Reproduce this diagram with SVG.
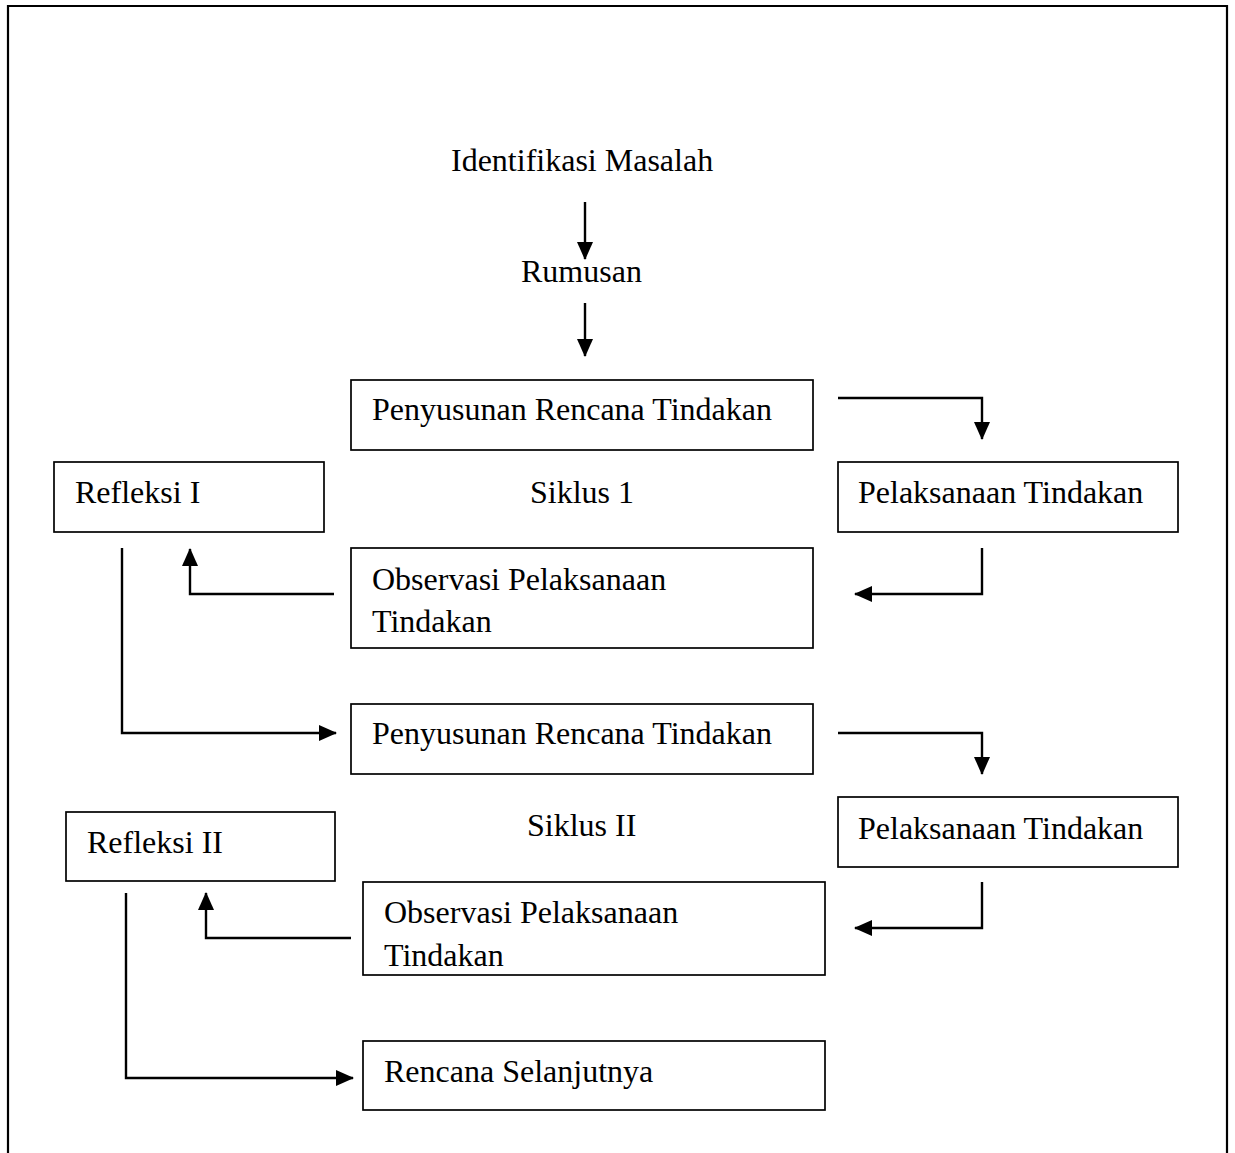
<svg xmlns="http://www.w3.org/2000/svg" width="1235" height="1153" viewBox="0 0 1235 1153">
<defs>
<marker id="ah" markerUnits="userSpaceOnUse" markerWidth="18" markerHeight="18" viewBox="0 0 18 18" refX="17" refY="9" orient="auto">
<path d="M0,1 L18,9 L0,17 Z" fill="#000"/>
</marker>
</defs>
<style>
.box{fill:#fff;stroke:#000;stroke-width:1.7}
.t{font-family:"Liberation Serif","Times New Roman",serif;font-size:32px;fill:#000}
.c{fill:none;stroke:#000;stroke-width:2.4;marker-end:url(#ah)}
</style>
<rect width="1235" height="1153" fill="#fff"/>
<path d="M8,1153 V6 H1227 V1153" fill="none" stroke="#000" stroke-width="2.2"/>
<g id="n-identifikasi"><text class="t" x="451" y="171">Identifikasi Masalah</text></g>
<g id="n-rumusan"><text class="t" x="521" y="282">Rumusan</text></g>
<g id="n-penyusunan1"><rect class="box" x="351" y="380" width="462" height="70"/><text class="t" x="372" y="420">Penyusunan Rencana Tindakan</text></g>
<g id="n-refleksi1"><rect class="box" x="54" y="462" width="270" height="70"/><text class="t" x="75" y="503">Refleksi I</text></g>
<g id="n-siklus1"><text class="t" x="530" y="503">Siklus 1</text></g>
<g id="n-pelaksanaan1"><rect class="box" x="838" y="462" width="340" height="70"/><text class="t" x="858" y="503">Pelaksanaan Tindakan</text></g>
<g id="n-observasi1"><rect class="box" x="351" y="548" width="462" height="100"/><text class="t" x="372" y="590">Observasi Pelaksanaan</text><text class="t" x="372" y="632">Tindakan</text></g>
<g id="n-penyusunan2"><rect class="box" x="351" y="704" width="462" height="70"/><text class="t" x="372" y="744">Penyusunan Rencana Tindakan</text></g>
<g id="n-siklus2"><text class="t" x="527" y="836">Siklus II</text></g>
<g id="n-refleksi2"><rect class="box" x="66" y="812" width="269" height="69"/><text class="t" x="87" y="853">Refleksi II</text></g>
<g id="n-pelaksanaan2"><rect class="box" x="838" y="797" width="340" height="70"/><text class="t" x="858" y="839">Pelaksanaan Tindakan</text></g>
<g id="n-observasi2"><rect class="box" x="363" y="882" width="462" height="93"/><text class="t" x="384" y="923">Observasi Pelaksanaan</text><text class="t" x="384" y="966">Tindakan</text></g>
<g id="n-rencana"><rect class="box" x="363" y="1041" width="462" height="69"/><text class="t" x="384" y="1082">Rencana Selanjutnya</text></g>
<g id="connectors">
<path class="c" d="M585,202 V259"/>
<path class="c" d="M585,303 V356"/>
<path class="c" d="M838,398 H982 V439"/>
<path class="c" d="M982,548 V594 H855"/>
<path class="c" d="M334,594 H190 V549"/>
<path class="c" d="M122,548 V733 H336"/>
<path class="c" d="M838,733 H982 V774"/>
<path class="c" d="M982,882 V928 H855"/>
<path class="c" d="M351,938 H206 V893"/>
<path class="c" d="M126,893 V1078 H353"/>
</g>
</svg>
